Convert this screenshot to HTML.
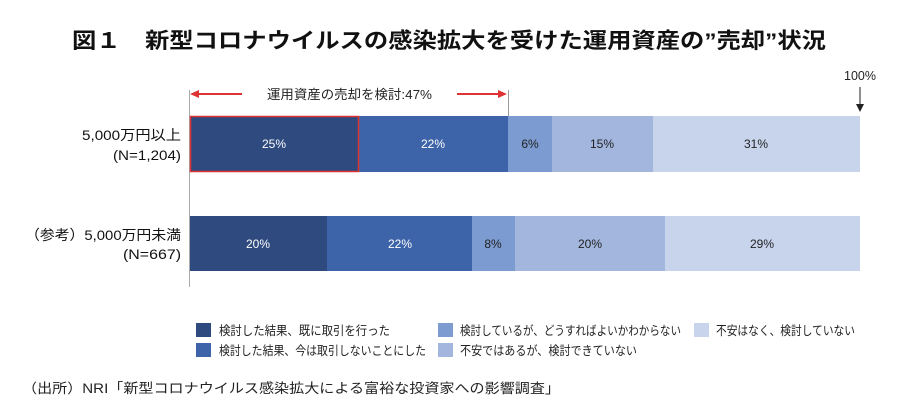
<!DOCTYPE html>
<html><head><meta charset="utf-8"><style>
body{margin:0;background:#fff;}
svg{display:block;font-family:"Liberation Sans","Noto Sans CJK JP",sans-serif;}
</style></head><body>
<svg width="900" height="413" viewBox="0 0 900 413" xmlns="http://www.w3.org/2000/svg">
<text x="449" y="48" text-anchor="middle" font-size="21.5" font-weight="bold" fill="#111" textLength="754" lengthAdjust="spacingAndGlyphs">図１　新型コロナウイルスの感染拡大を受けた運用資産の”売却”状況</text>
<line x1="189.5" y1="90" x2="189.5" y2="287" stroke="#aaa" stroke-width="1"/>
<line x1="508.5" y1="90" x2="508.5" y2="116" stroke="#999" stroke-width="1"/>
<line x1="193" y1="94" x2="242" y2="94" stroke="#d33" stroke-width="2"/>
<polygon points="190,94 199,90 199,98" fill="#d33"/>
<line x1="457" y1="94" x2="503" y2="94" stroke="#d33" stroke-width="2"/>
<polygon points="507,94 498,90 498,98" fill="#d33"/>
<text x="267" y="99" font-size="13" fill="#222" textLength="165" lengthAdjust="spacingAndGlyphs">運用資産の売却を検討:47%</text>
<text x="860" y="80" text-anchor="middle" font-size="12.5" fill="#222">100%</text>
<line x1="860" y1="87" x2="860" y2="107" stroke="#222" stroke-width="1"/>
<polygon points="856,104 864,104 860,112" fill="#222"/>
<g font-size="12" text-anchor="middle">
<rect x="190" y="116" width="169" height="56" fill="#2e4a7f"/>
<rect x="359" y="116" width="149" height="56" fill="#3d63a8"/>
<rect x="508" y="116" width="44" height="56" fill="#7b9bd1"/>
<rect x="552" y="116" width="101" height="56" fill="#a2b6de"/>
<rect x="653" y="116" width="207" height="56" fill="#c8d4ec"/>
<rect x="190.5" y="116.5" width="168" height="55" fill="none" stroke="#d33" stroke-width="1.5"/>
<text x="274" y="148" fill="#fff">25%</text>
<text x="433" y="148" fill="#fff">22%</text>
<text x="530" y="148" fill="#222">6%</text>
<text x="602" y="148" fill="#222">15%</text>
<text x="756" y="148" fill="#222">31%</text>
<rect x="190" y="216" width="137" height="55" fill="#2e4a7f"/>
<rect x="327" y="216" width="145" height="55" fill="#3d63a8"/>
<rect x="472" y="216" width="43" height="55" fill="#7b9bd1"/>
<rect x="515" y="216" width="150" height="55" fill="#a2b6de"/>
<rect x="665" y="216" width="195" height="55" fill="#c8d4ec"/>
<text x="258" y="248" fill="#fff">20%</text>
<text x="400" y="248" fill="#fff">22%</text>
<text x="493" y="248" fill="#222">8%</text>
<text x="590" y="248" fill="#222">20%</text>
<text x="762" y="248" fill="#222">29%</text>
</g>
<g font-size="14" fill="#111">
<text x="82" y="140" textLength="99" lengthAdjust="spacingAndGlyphs">5,000万円以上</text>
<text x="113" y="160" textLength="68" lengthAdjust="spacingAndGlyphs">(N=1,204)</text>
<text x="25" y="240" textLength="156" lengthAdjust="spacingAndGlyphs">（参考）5,000万円未満</text>
<text x="123" y="259" textLength="58" lengthAdjust="spacingAndGlyphs">(N=667)</text>
</g>
<g font-size="12.5" fill="#222">
<rect x="196" y="323" width="15" height="14" fill="#2e4a7f"/><text x="219" y="335" textLength="171" lengthAdjust="spacingAndGlyphs">検討した結果、既に取引を行った</text>
<rect x="196" y="343" width="15" height="14" fill="#3d63a8"/><text x="219" y="355" textLength="207" lengthAdjust="spacingAndGlyphs">検討した結果、今は取引しないことにした</text>
<rect x="438" y="323" width="15" height="14" fill="#7b9bd1"/><text x="460" y="335" textLength="221" lengthAdjust="spacingAndGlyphs">検討しているが、どうすればよいかわからない</text>
<rect x="438" y="343" width="15" height="14" fill="#a2b6de"/><text x="460" y="355" textLength="177" lengthAdjust="spacingAndGlyphs">不安ではあるが、検討できていない</text>
<rect x="694" y="323" width="15" height="14" fill="#c8d4ec"/><text x="716" y="335" textLength="139" lengthAdjust="spacingAndGlyphs">不安はなく、検討していない</text>
</g>
<text x="22" y="393" font-size="13.5" fill="#222" textLength="538" lengthAdjust="spacingAndGlyphs">（出所）NRI「新型コロナウイルス感染拡大による富裕な投資家への影響調査」</text>
</svg>
</body></html>
